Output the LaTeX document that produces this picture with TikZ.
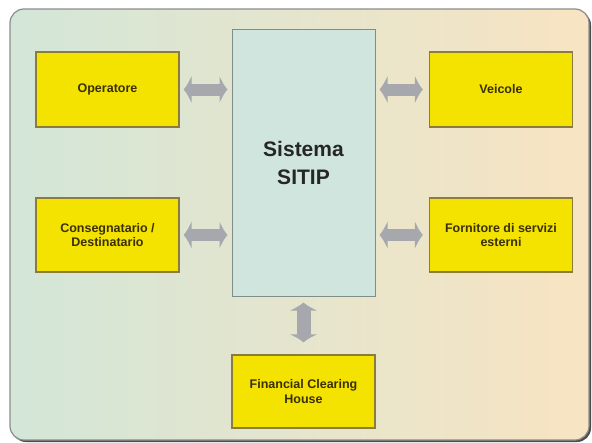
\documentclass[tikz,border=0pt]{standalone}
\usepackage{fontspec}
\setmainfont{Liberation Sans}
\usetikzlibrary{arrows.meta}
\definecolor{bgleft}{HTML}{D3E6D8}
\definecolor{bgright}{HTML}{F8E4C2}
\definecolor{frame}{HTML}{8C8C8C}
\definecolor{boxyellow}{HTML}{F4E300}
\definecolor{boxedge}{HTML}{8A7C3C}
\definecolor{sysfill}{HTML}{CFE5DD}
\definecolor{sysedge}{HTML}{7F8E88}
\definecolor{arrowgray}{HTML}{A7A7AE}
\definecolor{labeltext}{HTML}{3A3000}
\tikzset{
  actor/.style={draw=boxedge, line width=1.2pt, fill=boxyellow,
    minimum width=143pt, minimum height=75pt, inner sep=0pt,
    align=center, text=labeltext,
    font=\fontsize{12.5}{14.5}\selectfont\bfseries},
  system/.style={draw=sysedge, line width=1pt, fill=sysfill,
    minimum width=143pt, minimum height=267pt, inner sep=0pt,
    align=center, text=black!85,
    font=\fontsize{21}{28}\selectfont\bfseries},
  link/.style={draw=arrowgray, line width=12pt,
    {Latex[length=8pt,width=29pt]}-{Latex[length=8pt,width=29pt]}}
}
\begin{document}
\begin{tikzpicture}[x=1pt, y=-1pt]
  \useasboundingbox (0,0) rectangle (592,442);
  % panel with shadow
  \fill[black!70, rounded corners=14pt] (12,11) rectangle (591,442);
  \shade[left color=bgleft, right color=bgright, rounded corners=14pt,
    draw=frame, line width=1.2pt] (10,9) rectangle (589,440);

  % central system
  \node[system] (sys) at (303.5,162.5) {Sistema\\SITIP};

  % external actors
  \node[actor] (op)  at (107.5,89.5) {Operatore};
  \node[actor, minimum height=74pt] (cons) at (107.5,235) {Consegnatario /\\Destinatario};
  \node[actor] (veh) at (501,89.5) {Veicole};
  \node[actor, minimum height=74pt] (forn) at (501,235) {Fornitore di servizi\\esterni};
  \node[actor, minimum height=73pt] (fch) at (303.5,391.5) {Financial Clearing\\House};

  % two-way links
  \draw[link] ([xshift=4pt]op.east) -- ([xshift=-4pt]sys.west |- op.east);
  \draw[link] ([xshift=4pt]cons.east) -- ([xshift=-4pt]sys.west |- cons.east);
  \draw[link] ([xshift=4pt]sys.east |- veh.west) -- ([xshift=-6pt]veh.west);
  \draw[link] ([xshift=4pt]sys.east |- forn.west) -- ([xshift=-6pt]forn.west);
  \draw[link, line width=14pt] ([yshift=-6pt]sys.south) -- ([yshift=12pt]fch.north);
\end{tikzpicture}
\end{document}
